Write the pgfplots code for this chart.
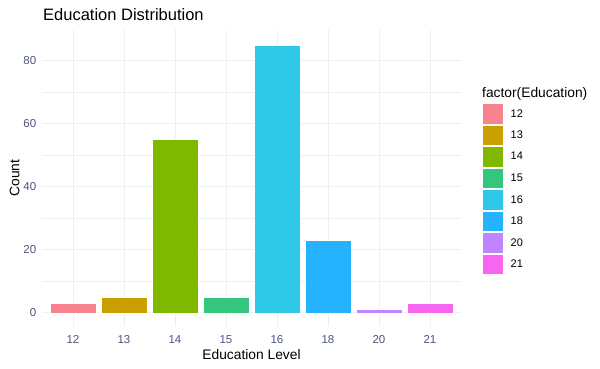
\documentclass[border=0pt]{standalone}
\usepackage{pgfplots}
\pgfplotsset{compat=1.18}
\usepackage{fontspec}
\setmainfont{Liberation Sans}
\definecolor{c12}{HTML}{F8838E}
\definecolor{c13}{HTML}{C9A000}
\definecolor{c14}{HTML}{80B800}
\definecolor{c15}{HTML}{35C57D}
\definecolor{c16}{HTML}{30C8E8}
\definecolor{c18}{HTML}{25B2FF}
\definecolor{c20}{HTML}{C084FF}
\definecolor{c21}{HTML}{F866F0}
\definecolor{gridc}{HTML}{EBF0F6}
\definecolor{tickc}{HTML}{4D5580}
\begin{document}
\begin{tikzpicture}
\fill[white] (0,0) rectangle (600pt,368pt);
\useasboundingbox (0,0) rectangle (600pt,368pt);
\begin{axis}[
  at={(42.4pt,41.8pt)}, anchor=south west,
  scale only axis, width=418.2pt, height=296.3pt,
  xmin=0.4, xmax=8.6, ymin=-4.275, ymax=89.78,
  xtick={1,2,3,4,5,6,7,8},
  xticklabels={12,13,14,15,16,18,20,21},
  ytick={0,20,40,60,80},
  minor ytick={10,30,50,70},
  xmajorgrids, ymajorgrids, yminorgrids,
  major grid style={draw=gridc, line width=0.9pt},
  minor grid style={draw=gridc, line width=0.45pt},
  axis line style={draw=none},
  tick style={draw=none},
  major tick length=0pt, minor tick length=0pt,
  /pgf/number format/assume math mode=true,
  ticklabel style={font=\fontsize{11.5}{13}\selectfont, text=tickc},
  xticklabel style={anchor=base, inner sep=0pt, yshift=-17.3pt},
  yticklabel style={anchor=east, inner sep=0pt, xshift=-6pt},
  title={Education Distribution},
  title style={at={(axis description cs:0,1)}, anchor=base west, inner sep=0pt, xshift=0.6pt, yshift=3.6pt, font=\fontsize{16.5}{19}\selectfont},
  xlabel={Education Level},
  xlabel style={at={(axis description cs:0.5,0)}, anchor=base, inner sep=0pt, yshift=-33pt, font=\fontsize{13.8}{16}\selectfont},
  ylabel={Count},
  ylabel style={at={(axis description cs:0,0.5)}, anchor=base, inner sep=0pt, yshift=22.9pt, font=\fontsize{13.8}{16}\selectfont},
  ybar, bar width=0.9, bar shift=0pt,
  clip=false,
  legend cell align=left,
  legend style={at={(1.0529,0.7493)}, anchor=north west, draw=none, fill=none,
    inner sep=0pt, outer sep=0pt, row sep=2pt, column sep=8pt,
    nodes={inner sep=0pt, font=\fontsize{11}{13}\selectfont}},
  legend image code/.code={\fill[#1,draw=none] (0pt,-9.75pt) rectangle (20pt,9.75pt);},
]
\addplot[fill=c12, draw=white, line width=0.4pt] coordinates {(1,3)};
\addplot[fill=c13, draw=white, line width=0.4pt] coordinates {(2,5)};
\addplot[fill=c14, draw=white, line width=0.4pt] coordinates {(3,55)};
\addplot[fill=c15, draw=white, line width=0.4pt] coordinates {(4,5)};
\addplot[fill=c16, draw=white, line width=0.4pt] coordinates {(5,85)};
\addplot[fill=c18, draw=white, line width=0.4pt] coordinates {(6,23)};
\addplot[fill=c20, draw=white, line width=0.4pt] coordinates {(7,1)};
\addplot[fill=c21, draw=white, line width=0.4pt] coordinates {(8,3)};
\legend{12,13,14,15,16,18,20,21}
\node[anchor=base west, inner sep=0pt, font=\fontsize{13.8}{16}\selectfont] at (axis description cs:1.0512,0.7703) {factor(Education)};
\end{axis}
\end{tikzpicture}
\end{document}
